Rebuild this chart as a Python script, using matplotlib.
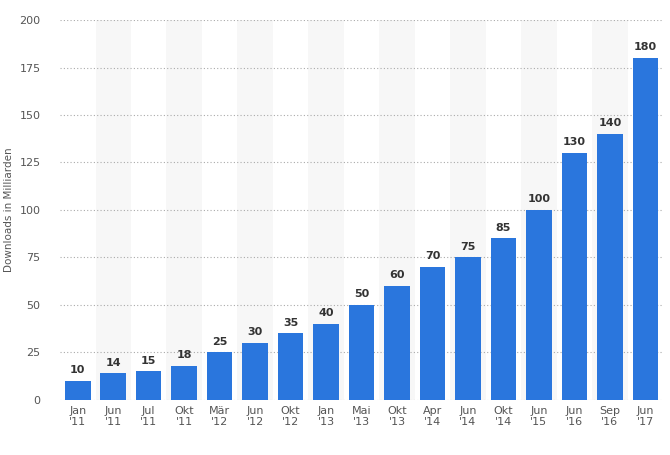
import matplotlib
matplotlib.use("Agg")
import matplotlib.pyplot as plt

labels = ["Jan\n'11","Jun\n'11","Jul\n'11","Okt\n'11","Mär\n'12","Jun\n'12","Okt\n'12","Jan\n'13","Mai\n'13","Okt\n'13","Apr\n'14","Jun\n'14","Okt\n'14","Jun\n'15","Jun\n'16","Sep\n'16","Jun\n'17"]
values = [10,14,15,18,25,30,35,40,50,60,70,75,85,100,130,140,180]

fig = plt.figure(figsize=(6.7,4.55), dpi=100)
ax = fig.add_axes([0.0896,0.121,0.9,0.835])
x = range(len(values))
for i in x:
    if i % 2 == 1:
        ax.axvspan(i-0.5, i+0.5, color="#f7f7f7", zorder=0, lw=0)
ax.bar(x, values, width=0.72, color="#2a76dd", zorder=3)
for i, v in zip(x, values):
    ax.text(i, v+3, str(v), ha="center", va="bottom", fontsize=8, fontweight="bold", color="#333333", zorder=4)
ax.set_xlim(-0.5, len(values)-0.5)
ax.set_ylim(0, 200)
ax.set_yticks(range(0,201,25))
ax.set_xticks(list(x))
ax.set_xticklabels(labels, fontsize=8, color="#555555")
ax.tick_params(axis="y", labelsize=8, colors="#555555", length=0, pad=14)
ax.tick_params(axis="x", length=0, pad=4)
ax.yaxis.grid(True, linestyle=(0,(1,2)), color="#aaaaaa", lw=0.8, zorder=1)
for s in ax.spines.values():
    s.set_visible(False)
ax.set_ylabel("Downloads in Milliarden", fontsize=7.5, color="#555555", labelpad=4)
fig.savefig("out.png", dpi=100)
